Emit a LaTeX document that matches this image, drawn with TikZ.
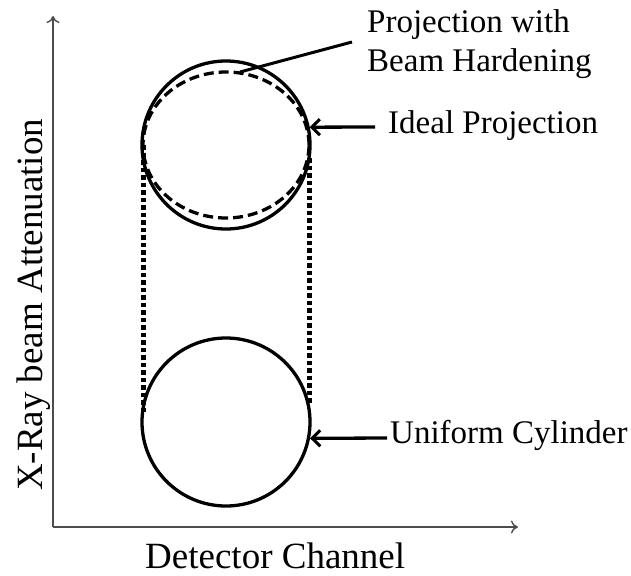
\documentclass[tikz,border=0pt]{standalone}
\usepackage{fontspec}
\setmainfont{Liberation Serif}
\usetikzlibrary{arrows.meta,shapes.geometric}
\begin{document}
\begin{tikzpicture}[x=1pt,y=1pt,
  axis/.style={draw=black!70, line width=1.4pt, -{To[length=7pt,width=13pt]}},
  outline/.style={draw=black, line width=3.3pt, inner sep=0pt},
  callout/.style={draw=black, line width=3.3pt, -{Straight Barb[length=8pt,width=16pt,line width=3pt]}},
  guide/.style={draw=black, line width=5pt, dash pattern=on 4.5pt off 3pt},
  lbl/.style={inner sep=0pt, font=\fontsize{33}{39}\selectfont},
  axlbl/.style={inner sep=0pt, font=\fontsize{37}{42}\selectfont}]
\useasboundingbox (0,0) rectangle (631,-575);
% axes
\coordinate (origin) at (53,-527);
\coordinate (ytip) at (53,-16);
\coordinate (xtip) at (518,-527);
\draw[axis] (origin) -- (ytip);
\draw[axis] (origin) -- (xtip);
\node[axlbl, rotate=90, anchor=base] (ylab) at (42,-305) {X-Ray beam Attenuation};
\node[axlbl, anchor=base west] (xlab) at (145,-568) {Detector Channel};
% shapes
\node[outline, circle, minimum size=168pt] (ideal) at (226,-145) {};
\node[outline, ellipse, dash pattern=on 10pt off 5pt, minimum width=166pt, minimum height=146pt] (bh) at (226,-145) {};
\node[outline, circle, minimum size=168pt] (cyl) at (226,-422) {};
% dotted guides
\coordinate (gl1) at (143,-145);
\coordinate (gl2) at (143,-415);
\coordinate (gr1) at (309,-158);
\coordinate (gr2) at (309,-405);
\draw[guide] (gl1) -- (gl2);
\draw[guide] (gr1) -- (gr2);
% labels
\node[lbl, anchor=base west, align=left] (bhlbl) at (367,-72) {Projection with\\Beam Hardening};
\node[lbl, anchor=base west] (ideallbl) at (388,-133) {Ideal Projection};
\node[lbl, anchor=base west] (cyllbl) at (390,-443) {Uniform Cylinder};
% callouts
\coordinate (bhs) at (352,-42);
\coordinate (bhe) at (240,-72);
\draw[draw=black, line width=3pt] (bhs) -- (bhe);
\coordinate (ids) at (375,-127);
\draw[callout] (ids) -- (ideal.12);
\coordinate (cys) at (387,-438);
\draw[callout] (cys) -- (cyl.-11);
\end{tikzpicture}
\end{document}
